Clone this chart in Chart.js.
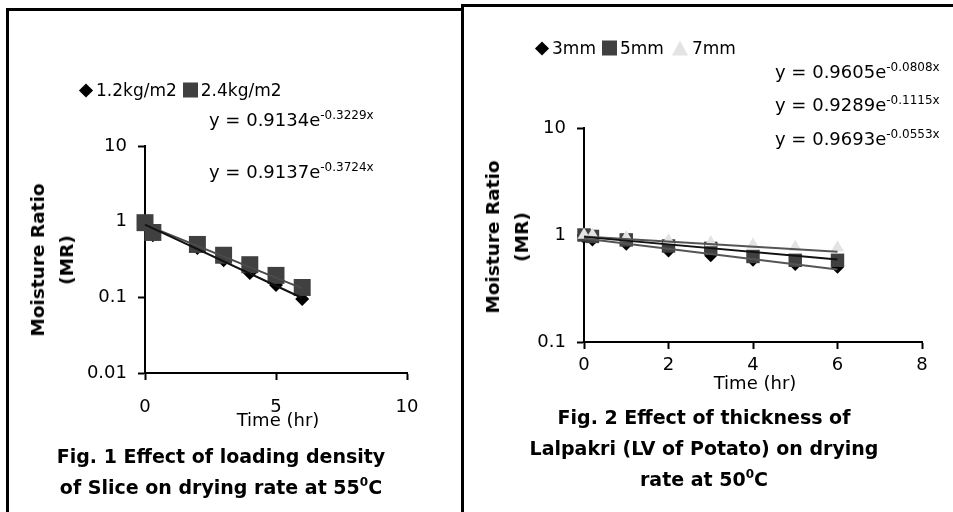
<!DOCTYPE html>
<html lang="en">
<head>
  <meta charset="UTF-8">
  <title>Drying rate charts</title>
  <script src="https://cdn.jsdelivr.net/npm/chart.js"></script>
  <style>
    body { margin: 0; width: 953px; height: 512px; overflow: hidden; background: #fff; position: relative;
           font-family: "DejaVu Sans", sans-serif; color: #000; }
    .box { position: absolute; box-sizing: border-box; border: 3px solid #000; height: 530px; }
    canvas { position: absolute; top: 0; }
    .t { position: absolute; white-space: nowrap; line-height: 1; }
    .eq { font-size: 18px; transform: translateY(-50%); }
    .eq sup { font-size: 12px; vertical-align: 7px; line-height: 0; }
    .leg { font-size: 17px; transform: translateY(-50%); display: flex; align-items: center; }
    .dia { display: inline-block; width: 10px; height: 10px; background: #000; transform: rotate(45deg); margin: 0 5px 0 3px; }
    .sq { display: inline-block; width: 15px; height: 15px; background: #404040; margin: 0 3px 0 6px; }
    .tri { display: inline-block; width: 0; height: 0; border-left: 8px solid transparent; border-right: 8px solid transparent;
           border-bottom: 15px solid #e3e3e3; margin: 0 4px 0 8px; }
    .ytitle { position: absolute; font-size: 18.5px; font-weight: bold; text-align: center; line-height: 29px;
              transform: translate(-50%, -50%) rotate(-90deg); white-space: nowrap; }
    .xtitle { font-size: 18px; transform: translate(-50%, -50%); }
    .cap { position: absolute; font-size: 19px; font-weight: bold; text-align: center; line-height: 31px;
           transform: translateX(-50%); white-space: nowrap; }
    .cap sup { font-size: 12px; vertical-align: 8px; line-height: 0; }
  </style>
</head>
<body>
  <div class="box" style="left:6px; top:8px; width:458px;"></div>
  <div class="box" style="left:461px; top:4px; width:520px;"></div>

  <canvas id="chartLoad" width="462" height="512" style="left:0"></canvas>
  <canvas id="chartThick" width="491" height="512" style="left:462px"></canvas>

  <!-- Fig. 1 texts -->
  <div class="t leg" style="left:78px; top:90px;"><span class="dia"></span>1.2kg/m2<span class="sq"></span>2.4kg/m2</div>
  <div class="t eq" style="left:209px; top:120px;">y = 0.9134e<sup>-0.3229x</sup></div>
  <div class="t eq" style="left:209px; top:172px;">y = 0.9137e<sup>-0.3724x</sup></div>
  <div class="ytitle" style="left:52px; top:260px;">Moisture Ratio<br>(MR)</div>
  <div class="t xtitle" style="left:278px; top:420px;">Time (hr)</div>
  <div class="cap" style="left:221px; top:441px;">Fig. 1 Effect of loading density<br>of Slice on drying rate at 55<sup>0</sup>C</div>

  <!-- Fig. 2 texts -->
  <div class="t leg" style="left:534px; top:48px;"><span class="dia"></span>3mm<span class="sq"></span>5mm<span class="tri"></span>7mm</div>
  <div class="t eq" style="left:775px; top:72px;">y = 0.9605e<sup>-0.0808x</sup></div>
  <div class="t eq" style="left:775px; top:105px;">y = 0.9289e<sup>-0.1115x</sup></div>
  <div class="t eq" style="left:775px; top:139px;">y = 0.9693e<sup>-0.0553x</sup></div>
  <div class="ytitle" style="left:507px; top:237px;">Moisture Ratio<br>(MR)</div>
  <div class="t xtitle" style="left:755px; top:383px;">Time (hr)</div>
  <div class="cap" style="left:704px; top:402px;">Fig. 2 Effect of thickness of<br>Lalpakri (LV of Potato) on drying<br>rate at 50<sup>0</sup>C</div>

  <script>
    // Fig. 1 - loading density, 55 C
    const loadTime = [0, 0.3, 2, 3, 4, 5, 6];
    const mr12 = [1.0, 0.66, 0.45, 0.31, 0.21, 0.145, 0.095];
    const mr24 = [0.97, 0.72, 0.50, 0.36, 0.27, 0.195, 0.135];
    const loadTrendX = [0, 6];
    const trend12 = [0.9137, 0.0979];
    const trend24 = [0.9134, 0.1316];
    const loadXTicks = [0, 5, 10];
    const loadYTicks = [0.01, 0.1, 1, 10];
    const loadYLabels = ['0.01', '0.1', '1', '10'];

    // Fig. 2 - slice thickness, 50 C
    const thickTime = [0, 0.2, 1, 2, 3, 4, 5, 6];
    const mr3mm = [0.95, 0.90, 0.82, 0.71, 0.64, 0.58, 0.53, 0.50];
    const mr5mm = [1.0, 0.97, 0.90, 0.79, 0.75, 0.63, 0.58, 0.58];
    const mr7mm = [1.0, 1.0, 0.95, 0.89, 0.85, 0.81, 0.77, 0.76];
    const thickTrendX = [0, 6];
    const trend3mm = [0.9289, 0.4758];
    const trend5mm = [0.9605, 0.5915];
    const trend7mm = [0.9693, 0.6956];
    const thickXTicks = [0, 2, 4, 6, 8];
    const thickYTicks = [0.1, 1, 10];
    const thickYLabels = ['0.1', '1', '10'];

    const pts = (xs, ys) => xs.map((x, i) => ({ x: x, y: ys[i] }));
    const tickFont = { family: 'DejaVu Sans', size: 18 };

    function marks(label, xs, ys, style, color, radius, order) {
      return { label: label, data: pts(xs, ys), pointStyle: style, pointRadius: radius,
               backgroundColor: color, borderColor: color, borderWidth: 0, showLine: false, clip: false, order: order };
    }
    function trend(xs, ys, color) {
      return { data: pts(xs, ys), showLine: true, pointRadius: 0, borderColor: color, borderWidth: 2,
               backgroundColor: color, clip: false, order: 0 };
    }
    function scales(xMax, xTicks, yMin, yTicks, yLabels, xPad) {
      return {
        x: {
          type: 'linear', min: 0, max: xMax,
          afterBuildTicks: s => { s.ticks = xTicks.map(v => ({ value: v })); },
          afterFit: s => { s.height = 40; },
          ticks: { color: '#000', font: tickFont, padding: xPad, maxRotation: 0 },
          grid: { drawOnChartArea: false, tickLength: 7, tickColor: '#000', tickWidth: 2 },
          border: { color: '#000', width: 2 }
        },
        y: {
          type: 'logarithmic', min: yMin, max: 10,
          afterBuildTicks: s => { s.ticks = yTicks.map(v => ({ value: v })); },
          afterFit: s => { s.width = 60; },
          ticks: { color: '#000', font: tickFont, padding: 11, callback: (v, i) => yLabels[i] },
          grid: { drawOnChartArea: false, tickLength: 7, tickColor: '#000', tickWidth: 2 },
          border: { color: '#000', width: 2 }
        }
      };
    }
    const plugins = { legend: { display: false }, tooltip: { enabled: false } };

    new Chart(document.getElementById('chartLoad'), {
      type: 'scatter',
      data: { datasets: [
        trend(loadTrendX, trend12, '#111'),
        trend(loadTrendX, trend24, '#4a4a4a'),
        marks('1.2kg/m2', loadTime, mr12, 'rectRot', '#000', 7, 3),
        marks('2.4kg/m2', loadTime, mr24, 'rect', '#404040', 12, 2)
      ] },
      options: {
        responsive: false, animation: false, events: [],
        layout: { padding: { left: 85, right: 55, top: 146, bottom: 99 } },
        scales: scales(10, loadXTicks, 0.01, loadYTicks, loadYLabels, 17),
        plugins: plugins
      }
    });

    new Chart(document.getElementById('chartThick'), {
      type: 'scatter',
      data: { datasets: [
        trend(thickTrendX, trend3mm, '#555'),
        trend(thickTrendX, trend5mm, '#111'),
        trend(thickTrendX, trend7mm, '#555'),
        marks('3mm', thickTime, mr3mm, 'rectRot', '#000', 6.5, 3),
        marks('5mm', thickTime, mr5mm, 'rect', '#404040', 9.5, 2),
        marks('7mm', thickTime, mr7mm, 'triangle', '#e3e3e3', 7.5, 1)
      ] },
      options: {
        responsive: false, animation: false, events: [],
        layout: { padding: { left: 62, right: 31, top: 128, bottom: 130 } },
        scales: scales(8, thickXTicks, 0.1, thickYTicks, thickYLabels, 6),
        plugins: plugins
      }
    });
  </script>
</body>
</html>
